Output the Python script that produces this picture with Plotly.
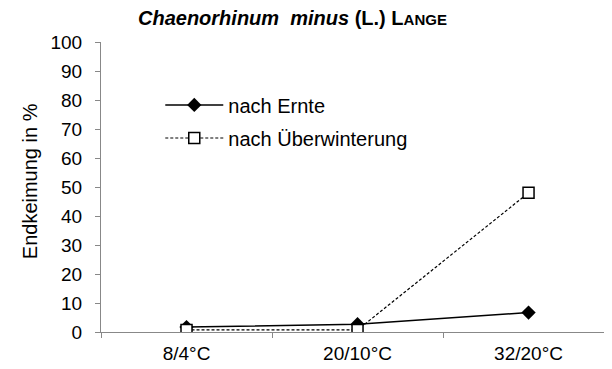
import plotly.graph_objects as go

# Daten
temperaturen = ["8/4°C", "20/10°C", "32/20°C"]
nach_ernte = [1.7, 2.7, 6.7]
nach_ueberwinterung = [0.7, 0.7, 48]
y_ticks = list(range(0, 101, 10))

schrift = "Liberation Sans, Arial, sans-serif"
grau = "#888888"

fig = go.Figure()
fig.add_trace(go.Scatter(
    x=temperaturen, y=nach_ernte, name="nach Ernte",
    mode="lines+markers", legend="legend",
    line=dict(color="black", width=1.5),
    marker=dict(symbol="diamond", size=11, color="black"),
))
fig.add_trace(go.Scatter(
    x=temperaturen, y=nach_ueberwinterung, name="nach Überwinterung",
    mode="lines+markers", legend="legend2",
    line=dict(color="black", width=1.2, dash="3px,2px"),
    marker=dict(symbol="square", size=11, color="white",
                line=dict(color="black", width=1.5)),
))

# Titel mit Kapitälchen
fig.add_annotation(
    text="<b><i>Chaenorhinum  minus</i> (L.) L<span style='font-size:15px'>ANGE</span></b>",
    xref="paper", yref="paper", x=0.374, y=1.0, yshift=24,
    xanchor="center", yanchor="middle", showarrow=False,
    font=dict(family=schrift, size=20, color="black"),
)
# y-Achsentitel
fig.add_annotation(
    text="Endkeimung in %", textangle=-90,
    xref="paper", yref="paper", x=0, xshift=-71, y=0.52,
    xanchor="center", yanchor="middle", showarrow=False,
    font=dict(family=schrift, size=20, color="black"),
)

leg = dict(xanchor="left", yanchor="middle", bgcolor="rgba(0,0,0,0)",
           font=dict(size=20), itemwidth=58)

fig.update_layout(
    width=604, height=361,
    margin=dict(l=93, r=0, t=34, b=37),
    paper_bgcolor="white", plot_bgcolor="white",
    font=dict(family=schrift, size=19, color="black"),
    showlegend=True,
    legend=dict(leg, x=0.116, y=0.783),
    legend2=dict(leg, x=0.116, y=0.669),
    xaxis=dict(
        type="category", range=[-0.5, 2.488],
        showline=True, linecolor=grau, linewidth=1,
        ticks="outside", tickson="boundaries", ticklen=5, tickcolor=grau,
        showgrid=False, zeroline=False,
        tickfont=dict(size=19), ticklabelstandoff=4,
    ),
    yaxis=dict(
        range=[0, 100], tickvals=y_ticks,
        showline=True, linecolor=grau, linewidth=1,
        ticks="outside", ticklen=5, tickcolor=grau,
        showgrid=False, zeroline=False,
        tickfont=dict(size=19), ticklabelstandoff=9,
    ),
)

fig.write_html("out.html")
